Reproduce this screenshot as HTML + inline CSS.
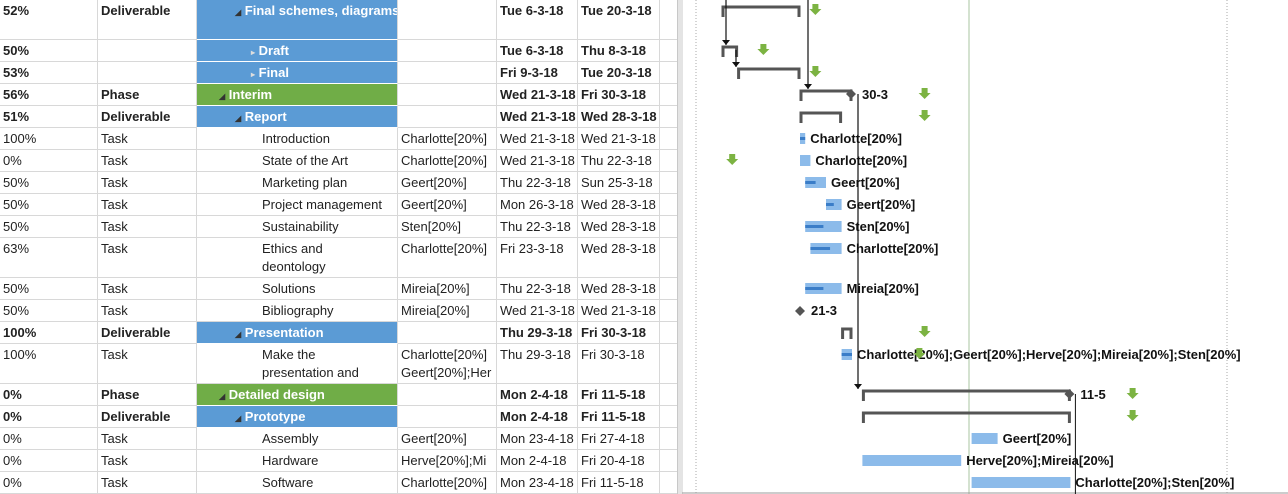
<!DOCTYPE html>
<html><head><meta charset="utf-8"><style>
html,body{margin:0;padding:0;background:#fff;width:1288px;height:494px;overflow:hidden;font-family:"Liberation Sans",Arial,sans-serif;font-size:13px;color:#222}
#wrap{position:relative;width:1288px;height:494px}
.cell{position:absolute;box-sizing:border-box;border-right:1px solid #d8d8d8;border-bottom:1px solid #d8d8d8;padding:2px 0 0 3px;white-space:nowrap;overflow:hidden;line-height:18px}
.b{font-weight:bold}
.blue{background:#5b9bd5;color:#fff;border-bottom-color:#fff}
.green{background:#70ad47;color:#fff;border-bottom-color:#fff}
svg text{font-family:"Liberation Sans",Arial,sans-serif;font-weight:bold;font-size:13px;fill:#111}
</style></head><body>
<div id="wrap">
<div id="table"></div>
<div style="position:absolute;left:677px;top:0;width:5px;height:494px;background:#e4e4e4;border-left:1px solid #c8c8c8"></div>
<svg id="g" width="1288" height="494" style="position:absolute;left:0;top:0"></svg>
</div>
<script>
// ---- data ----
const pct   = ["52%","50%","53%","56%","51%","100%","0%","50%","50%","50%","63%","50%","50%","100%","100%","0%","0%","0%","0%","0%"];
const types = ["Deliverable","","","Phase","Deliverable","Task","Task","Task","Task","Task","Task","Task","Task","Deliverable","Task","Phase","Deliverable","Task","Task","Task"];
const names = ["Final schemes, diagrams","Draft","Final","Interim","Report","Introduction","State of the Art","Marketing plan","Project management","Sustainability","Ethics and<br>deontology","Solutions","Bibliography","Presentation","Make the<br>presentation and","Detailed design","Prototype","Assembly","Hardware","Software"];
const levels= [2,3,3,1,2,4,4,4,4,4,4,4,4,2,4,1,2,4,4,4];
const resources=["","","","","","Charlotte[20%]","Charlotte[20%]","Geert[20%]","Geert[20%]","Sten[20%]","Charlotte[20%]","Mireia[20%]","Mireia[20%]","","Charlotte[20%]<br>Geert[20%];Her","","","Geert[20%]","Herve[20%];Mi","Charlotte[20%]"];
const starts= ["Tue 6-3-18","Tue 6-3-18","Fri 9-3-18","Wed 21-3-18","Wed 21-3-18","Wed 21-3-18","Wed 21-3-18","Thu 22-3-18","Mon 26-3-18","Thu 22-3-18","Fri 23-3-18","Thu 22-3-18","Wed 21-3-18","Thu 29-3-18","Thu 29-3-18","Mon 2-4-18","Mon 2-4-18","Mon 23-4-18","Mon 2-4-18","Mon 23-4-18"];
const finishes=["Tue 20-3-18","Thu 8-3-18","Tue 20-3-18","Fri 30-3-18","Wed 28-3-18","Wed 21-3-18","Thu 22-3-18","Sun 25-3-18","Wed 28-3-18","Wed 28-3-18","Wed 28-3-18","Wed 28-3-18","Wed 21-3-18","Fri 30-3-18","Fri 30-3-18","Fri 11-5-18","Fri 11-5-18","Fri 27-4-18","Fri 20-4-18","Fri 11-5-18"];
const rowH  = [40,22,22,22,22,22,22,22,22,22,40,22,22,22,40,22,22,22,22,22];
// gantt data: day offsets from Tue 6-3-18
const kind  = ["sum","sum","sum","sum","sum","task","task","task","task","task","task","task","ms","sum","task","sum","sum","task","task","task"];
const dayStart=[0,0,3,15,15,15,15,16,20,16,17,16,15,23,23,27,27,48,27,48];
const dayEnd  =[15,3,15,25,23,16,17,20,23,23,23,23,15,25,25,67,67,53,46,67];
const done    =[52,50,53,56,51,100,0,50,50,50,63,50,50,100,100,0,0,0,0,0];
const barLabels=["","","","30-3","","Charlotte[20%]","Charlotte[20%]","Geert[20%]","Geert[20%]","Sten[20%]","Charlotte[20%]","Mireia[20%]","21-3","","Charlotte[20%];Geert[20%];Herve[20%];Mireia[20%];Sten[20%]","11-5","","Geert[20%]","Herve[20%];Mireia[20%]","Charlotte[20%];Sten[20%]"];
const finishMs=[false,false,false,true,false,false,false,false,false,false,false,false,false,false,false,true,false,false,false,false];
const deadlineDay=[17,7,17,38,38,null,1,null,null,null,null,null,null,38,37,78,78,null,null,null];
const links=[[0,1],[1,2],[0,3],[3,15]];

const cols=[0,98,197,398,497,578,660,678];
const X0=722, DW=5.2;
const x=d=>X0+d*DW;
const rowTop=[];let acc=0;for(const h of rowH){rowTop.push(acc);acc+=h;}

// ---- table ----
const T=document.getElementById('table');
for(let i=0;i<names.length;i++){
  const bold=kind[i]==='sum';
  const vals=[pct[i],types[i],names[i],resources[i],starts[i],finishes[i],""];
  for(let c=0;c<7;c++){
    const d=document.createElement('div');
    d.className='cell'+(bold?' b':'');
    
    
    d.style.left=cols[c]+'px';d.style.top=rowTop[i]+'px';
    d.style.width=(cols[c+1]-cols[c])+'px';d.style.height=rowH[i]+'px';
    let html=vals[c];
    if(c===2){
      if(types[i]==='Phase')d.classList.add('green');
      else if(bold)d.classList.add('blue');
      const ind=[0,22,38,54,62][levels[i]];
      d.style.paddingLeft=ind+'px';
      if(bold){const tri=levels[i]===3?'<span style="font-size:8px;color:#ddd">&#9656;</span> ':'<span style="font-size:8px;color:#333">&#9698;</span> ';html=tri+html;}
      d.style.fontWeight=bold?'bold':'normal';
      if(!bold)d.style.paddingLeft='65px';
    }
    d.innerHTML=html;
    T.appendChild(d);
  }
}

// ---- gantt ----
const S=document.getElementById('g');const NS='http://www.w3.org/2000/svg';
function el(tag,attrs,name){const e=document.createElementNS(NS,tag);for(const k in attrs)e.setAttribute(k,attrs[k]);
  
  
  S.appendChild(e);return e;}
el('line',{x1:696,y1:0,x2:696,y2:494,stroke:'#aaa','stroke-dasharray':'1,2'},'grid-dotted-left');
el('line',{x1:1227,y1:0,x2:1227,y2:494,stroke:'#aaa','stroke-dasharray':'1,2'},'grid-dotted-right');
el('line',{x1:969,y1:0,x2:969,y2:494,stroke:'#a9c4a0','stroke-width':1},'status-date-line');
el('line',{x1:682,y1:493,x2:1288,y2:493,stroke:'#999'},'bottom-border');
function gArrow(cx,cy,name){el('path',{d:`M${cx-3},${cy-6}h6v5h3l-6,6l-6,-6h3z`,fill:'#7cb342'},name);}
function diamond(cx,cy,name){el('path',{d:`M${cx},${cy-5}l5,5l-5,5l-5,-5z`,fill:'#555'},name);}
for(let i=0;i<names.length;i++){
  const cy=rowTop[i]+11, y0=rowTop[i];
  const xs=x(dayStart[i]), xe=x(dayEnd[i]);
  if(kind[i]==='sum'){
    el('path',{d:`M${xs+1},${y0+17}V${y0+7}H${xe-1}V${y0+17}`,fill:'none',stroke:'#555','stroke-width':3},'summary-bar');
    if(finishMs[i])diamond(xe-1,y0+10,'finish-milestone');
  }else if(kind[i]==='task'){
    const by=y0+5;
    el('rect',{x:xs,y:by,width:Math.max(xe-xs,3),height:11,fill:'#8cbbea'},'task-bar');
    const pw=(xe-xs)*done[i]/100;
    if(pw>0)el('rect',{x:xs,y:by+4,width:Math.max(pw,2),height:3,fill:'#3a7dc8'},'progress-bar');
  }else{diamond(xs,cy,'milestone');}
  if(barLabels[i]){
    const lx=(kind[i]==='ms')?xs+11:(finishMs[i]?xe+10:xe+5);
    el('text',{x:lx,y:y0+15},'bar-label').textContent=barLabels[i];
  }
  if(deadlineDay[i]!==null)gArrow(x(deadlineDay[i])+5,y0+10,'deadline-marker');
}
for(const [a,b] of links){
  const sx=x(dayStart[a])+ (a===b-1&&a===0?4:(a===1?14:(a===0?86:x(dayEnd[a])-x(dayStart[a])+6)));
  const ty=rowTop[b]+5;
  el('path',{d:`M${sx},${rowTop[a]===0?0:rowTop[a]+10}V${ty}`,stroke:'#111',fill:'none','stroke-width':1.2},'link-line');
  el('path',{d:`M${sx-4},${ty-5}h8l-4,5z`,fill:'#111'},'link-arrow');
}
el('path',{d:`M${x(67)+5},${rowTop[15]+10}V494`,stroke:'#111',fill:'none'},'link-line');
</script>
</body></html>
